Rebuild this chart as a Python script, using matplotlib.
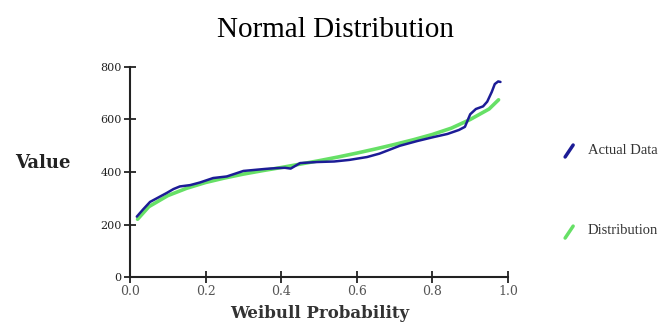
import matplotlib.pyplot as plt
from matplotlib.lines import Line2D

# Data
prob_actual = [0.018, 0.035, 0.053, 0.075, 0.097, 0.115, 0.132, 0.159, 0.185, 0.22, 0.256,
               0.30, 0.33, 0.36, 0.39, 0.41, 0.425, 0.45, 0.495, 0.54, 0.58,
               0.627, 0.66, 0.714, 0.76, 0.80, 0.84, 0.87, 0.886, 0.9, 0.915, 0.934,
               0.945, 0.957, 0.965, 0.974, 0.98]
value_actual = [230, 258, 286, 303, 320, 335, 345, 350, 360, 377, 383,
                404, 408, 412, 415, 416, 413, 434, 438, 440, 446,
                457, 470, 500, 518, 532, 545, 560, 572, 620, 640, 650,
                668, 705, 735, 745, 743]

prob_dist = [0.02, 0.05, 0.1, 0.15, 0.2, 0.25, 0.3, 0.35, 0.4, 0.45, 0.5, 0.55,
             0.6, 0.65, 0.7, 0.75, 0.8, 0.85, 0.9, 0.95, 0.975]
value_dist = [220, 268, 310, 338, 360, 377, 392, 405, 417, 430, 443, 457,
              472, 488, 505, 523, 543, 567, 600, 640, 675]

xticks = [0.0, 0.2, 0.4, 0.6, 0.8, 1.0]
yticks = [0, 200, 400, 600, 800]

blue = "#1c1c96"
green = "#66e066"

plt.rcParams["font.family"] = ["Liberation Serif", "DejaVu Serif"]

fig = plt.figure(figsize=(6.68, 3.23), dpi=100)
ax = fig.add_axes([0.1946, 0.1424, 0.5659, 0.6502])

ax.plot(prob_dist, value_dist, color=green, lw=2.6, solid_capstyle="round")
ax.plot(prob_actual, value_actual, color=blue, lw=1.8, solid_capstyle="round")

ax.set_xlim(0, 1)
ax.set_ylim(0, 800)
ax.set_xticks(xticks)
ax.set_yticks(yticks)
ax.set_xticklabels([f"{t:.1f}" for t in xticks], family="DejaVu Serif", fontsize=9, color="#555555")
ax.set_yticklabels([str(t) for t in yticks], family="DejaVu Serif", fontsize=8, color="#333333")
ax.tick_params(direction="inout", length=8, width=1.3, pad=2, colors="#222222")
ax.tick_params(axis="x", labelcolor="#555555")
for s in ["top", "right"]:
    ax.spines[s].set_visible(False)
for s in ["left", "bottom"]:
    ax.spines[s].set_linewidth(1.5)
    ax.spines[s].set_color("#222222")

fig.text(0.502, 0.907, "Normal Distribution", ha="center", va="center", fontsize=21)
fig.text(0.479, 0.03, "Weibull Probability", ha="center", va="center", fontsize=12,
         family="DejaVu Serif", weight="bold", color="#333333")
fig.text(0.064, 0.495, "Value", ha="center", va="center", fontsize=13,
         family="DejaVu Serif", weight="bold", color="#222222")

# legend glyphs (short diagonal strokes) outside the axes
for (x0, y0), col, label, ty in [((0.846, 0.514), blue, "Actual Data", 0.533),
                                 ((0.846, 0.263), green, "Distribution", 0.285)]:
    fig.add_artist(Line2D([x0, x0 + 0.012], [y0, y0 + 0.037], color=col, lw=2.5,
                          transform=fig.transFigure, solid_capstyle="round"))
    fig.text(0.880, ty, label, ha="left", va="center", fontsize=10.5, color="#333333")

fig.savefig("out.png", dpi=100)
